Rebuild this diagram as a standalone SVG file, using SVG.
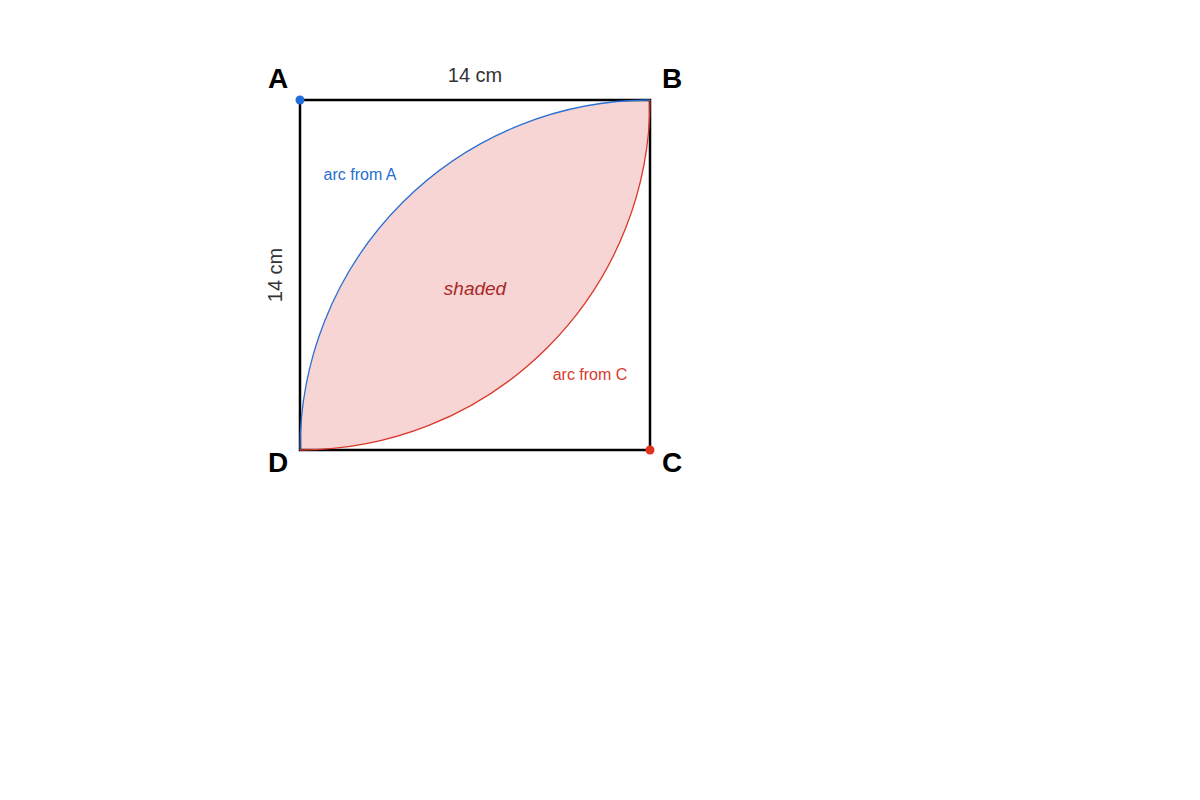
<svg xmlns="http://www.w3.org/2000/svg" width="1200" height="800" viewBox="0 0 1200 800">
<style>
.lbl{font-family:"Liberation Sans",Arial,sans-serif;font-weight:bold;font-size:28px;fill:#000}
.dim{font-family:"Liberation Sans",Arial,sans-serif;font-size:20px;fill:#333}
.small{font-family:"Liberation Sans",Arial,sans-serif;font-size:16px}
.shade{font-family:"Liberation Sans",Arial,sans-serif;font-size:19px;font-style:italic;fill:#a82828}
</style>
<rect width="1200" height="800" fill="#fff"/>
<g id="shaded-region">
<path d="M300,450 A350,350 0 0 1 650,100 A350,350 0 0 1 300,450 Z" fill="#f7d5d5"/>
</g>
<g id="square">
<rect x="300" y="100" width="350" height="350" fill="none" stroke="#000" stroke-width="2.5"/>
</g>
<g id="connectors">
<path d="M300,450 A350,350 0 0 1 650,100" fill="none" stroke="#2a6fd2" stroke-width="1.3"/>
<path d="M300,450 A350,350 0 0 0 650,100" fill="none" stroke="#d9392b" stroke-width="1.3"/>
</g>
<g id="point-A"><circle cx="300" cy="100" r="4.5" fill="#1f6fdc"/><text class="lbl" x="278" y="88" text-anchor="middle">A</text></g>
<g id="point-B"><text class="lbl" x="672" y="88" text-anchor="middle">B</text></g>
<g id="point-C"><circle cx="650" cy="450" r="4.5" fill="#e0331f"/><text class="lbl" x="672" y="472" text-anchor="middle">C</text></g>
<g id="point-D"><text class="lbl" x="278" y="472" text-anchor="middle">D</text></g>
<g id="labels">
<text class="dim" x="475" y="82" text-anchor="middle">14 cm</text>
<text class="dim" x="282" y="275" text-anchor="middle" transform="rotate(-90 282 275)">14 cm</text>
<text class="small" x="360" y="180" text-anchor="middle" fill="#1f6fcf">arc from A</text>
<text class="small" x="590" y="380" text-anchor="middle" fill="#d9392b">arc from C</text>
<text class="shade" x="475" y="295" text-anchor="middle">shaded</text>
</g>
</svg>
